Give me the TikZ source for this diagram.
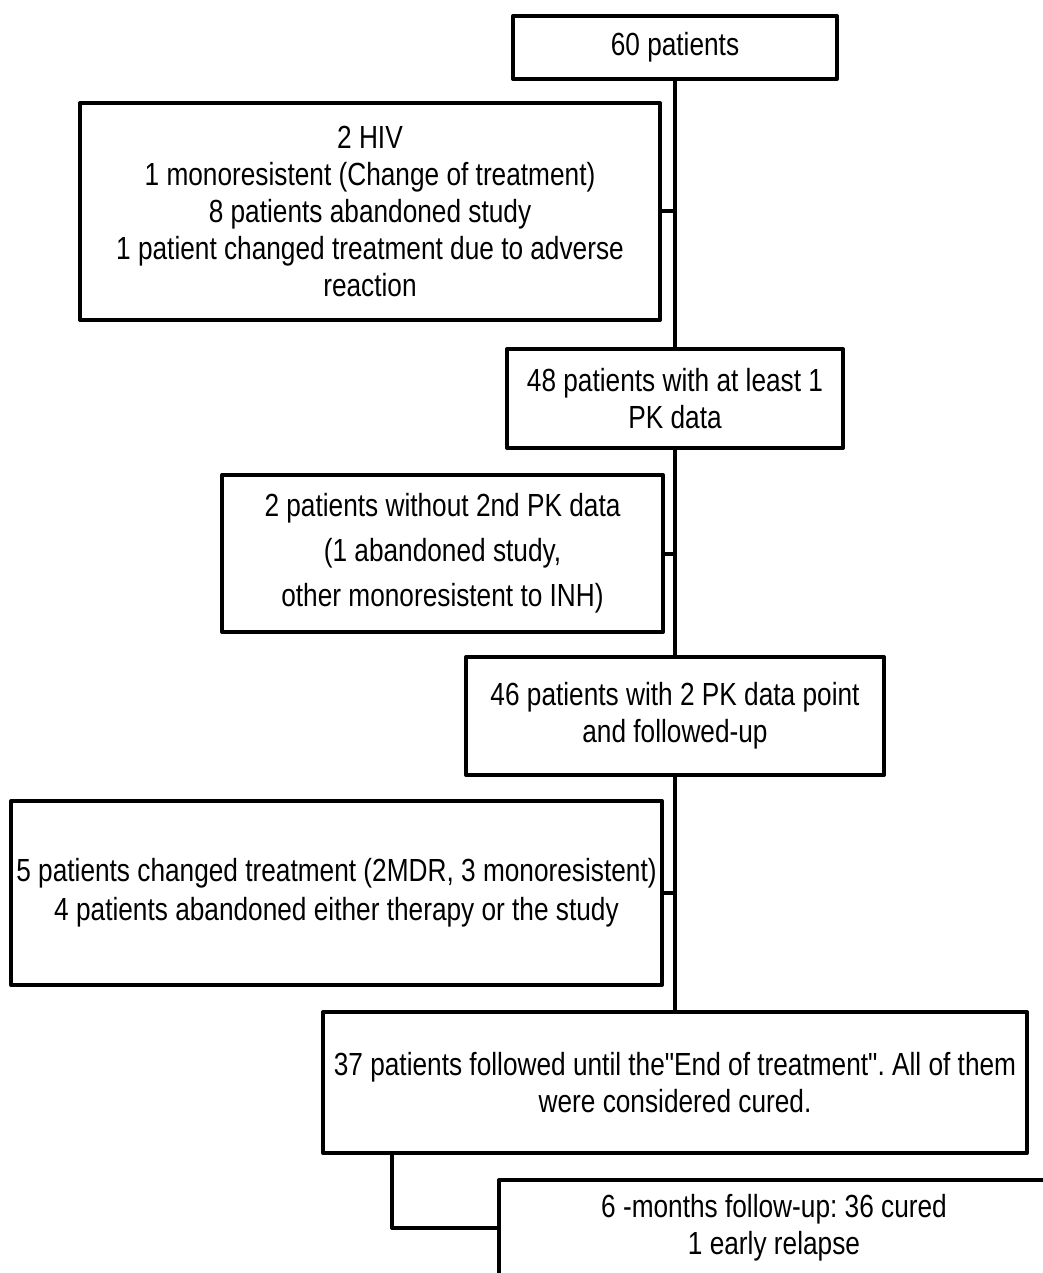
\documentclass[tikz,border=0pt]{standalone}
\usepackage{fontspec}
\setmainfont{Liberation Sans}[FakeStretch=0.82,Ligatures=TeXOff]
\frenchspacing
\begin{document}
\begin{tikzpicture}[x=1pt,y=-1pt,line width=4pt,line join=round,
    flowbox/.style={draw,inner sep=0pt,align=center,
      font=\fontsize{32}{37}\selectfont}]
  \useasboundingbox (0,0) rectangle (1043,1273);
  \clip (0,0) rectangle (1043,1273);
  % main column
  \node[flowbox,minimum width=324pt,minimum height=63pt] (b60) at (675,47.5) {60 patients};
  \node[flowbox,minimum width=336pt,minimum height=99pt] (b48) at (675,398.5) {48 patients with at least 1\\PK data};
  \node[flowbox,minimum width=418pt,minimum height=118pt] (b46) at (675,716) {46 patients with 2 PK data point\\and followed-up};
  \node[flowbox,minimum width=704pt,minimum height=141pt] (b37) at (675,1082.5) {37 patients followed until the"End of treatment". All of them\\were considered cured.};
  \node[flowbox,minimum width=550pt,minimum height=96pt] (b6m) at (774,1228) {6 -months follow-up: 36 cured\\1 early relapse};
  % exclusions
  \node[flowbox,minimum width=580pt,minimum height=217pt] (ex1) at (370,211.5) {2 HIV\\1 monoresistent (Change of treatment)\\8 patients abandoned study\\1 patient changed treatment due to adverse\\reaction};
  \node[flowbox,minimum width=441pt,minimum height=157pt] (ex2) at (442.5,553.5) {2 patients without 2nd PK data\\[8pt](1 abandoned study,\\[8pt]other monoresistent to INH)};
  \node[flowbox,minimum width=651pt,minimum height=184pt] (ex3) at (336.5,893) {5 patients changed treatment (2MDR, 3 monoresistent)\\[2pt]4 patients abandoned either therapy or the study};
  % connectors
  \draw (b60.south) -- (b48.north);
  \draw (b48.south) -- (b46.north);
  \draw (b46.south) -- (b37.north);
  \draw (ex1.east) -- (ex1.east -| b60.south);
  \draw (ex2.east) -- (ex2.east -| b48.south);
  \draw (ex3.east) -- (ex3.east -| b46.south);
  \draw ([xshift=71pt]b37.south west) |- (b6m.west);
\end{tikzpicture}
\end{document}
